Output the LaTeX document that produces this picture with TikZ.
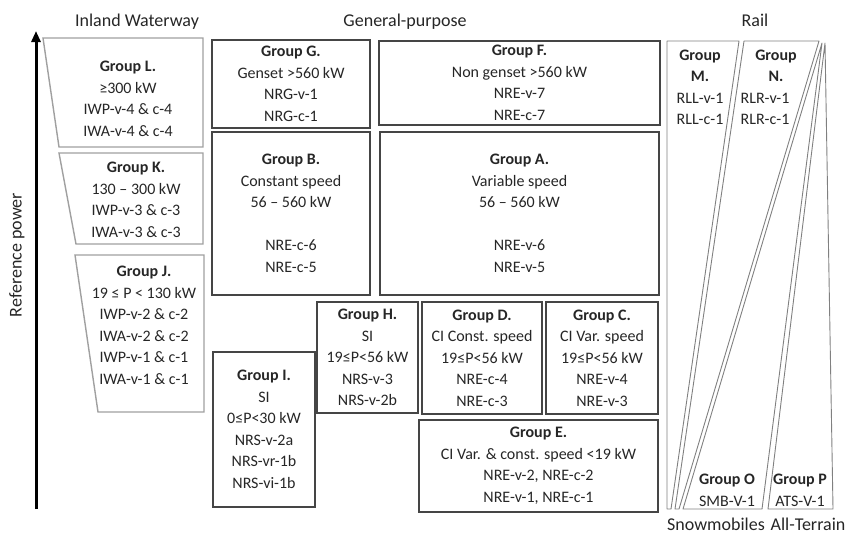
\documentclass[tikz,border=0pt]{standalone}
\usepackage{fontspec}
\setmainfont{Carlito}
\usetikzlibrary{arrows.meta}
\definecolor{txt}{HTML}{262626}
\definecolor{gpcol}{HTML}{454545}
\definecolor{iwcol}{HTML}{A0A0A0}
\definecolor{railcol}{HTML}{808080}
\tikzset{
  gpbox/.style={draw=gpcol, line width=1.8pt, inner sep=0pt, align=center, text=txt,
     font=\fontsize{16}{21.5}\selectfont},
  lbl/.style={inner sep=0pt, align=center, text=txt, font=\fontsize{16}{21.5}\selectfont},
  head/.style={inner sep=0pt, text=txt, font=\fontsize{18}{22}\selectfont},
  iwshape/.style={draw=iwcol, line width=1.4pt, line join=miter},
  railshape/.style={draw=railcol, line width=0.9pt, line join=round},
}
\begin{document}
\begin{tikzpicture}[x=1pt,y=-1pt]
\useasboundingbox (0,0) rectangle (850,536);
% headers
\node[head] (hIW) at (137,22) {Inland Waterway};
\node[head] (hGP) at (405,22) {General-purpose};
\node[head] (hR) at (755,20) {Rail};
\node[head] (hS) at (716,524) {Snowmobiles};
\node[head] (hA) at (808,524) {All-Terrain};
\node[head, rotate=90] (hRP) at (17,255) {Reference power};
% axis arrow
\coordinate (ab) at (36,509);
\coordinate (at) at (36,31);
\draw[line width=3pt, -{Triangle[length=11pt,width=9pt]}] (ab) -- (at);
% inland waterway trapezoids
\draw[iwshape] (43,38) -- (203,38) -- (203,147) -- (59,147) -- cycle;
\node[lbl] (L) at (128,99) {\textbf{Group L.}\\≥300 kW\\IWP-v-4 \& c-4\\IWA-v-4 \& c-4};
\draw[iwshape] (59,153) -- (203,153) -- (203,244) -- (76,244) -- cycle;
\node[lbl] (K) at (136,200) {\textbf{Group K.}\\130 – 300 kW\\IWP-v-3 \& c-3\\IWA-v-3 \& c-3};
\draw[iwshape] (75,255) -- (204,255) -- (204,412) -- (98,412) -- cycle;
\node[lbl] (J) at (144,325.5) {\textbf{Group J.}\\19 ≤ P < 130 kW\\IWP-v-2 \& c-2\\IWA-v-2 \& c-2\\IWP-v-1 \& c-1\\IWA-v-1 \& c-1};
% general purpose boxes
\node[gpbox, minimum width=158pt, minimum height=88pt] (G) at (291,84)
  {\textbf{Group G.}\\Genset >560 kW\\NRG-v-1\\NRG-c-1};
\node[gpbox, minimum width=281pt, minimum height=84pt] (F) at (519.5,83)
  {\textbf{Group F.}\\Non genset >560 kW\\NRE-v-7\\NRE-c-7};
\node[gpbox, minimum width=158pt, minimum height=163pt] (B) at (291,213.5)
  {\textbf{Group B.}\\Constant speed\\56 – 560 kW\\[21.5pt]NRE-c-6\\NRE-c-5};
\node[gpbox, minimum width=279pt, minimum height=163pt] (A) at (519.5,213.5)
  {\textbf{Group A.}\\Variable speed\\56 – 560 kW\\[21.5pt]NRE-v-6\\NRE-v-5};
\node[gpbox, minimum width=101pt, minimum height=111pt] (H) at (367.5,357.5)
  {\textbf{Group H.}\\SI\\19≤P<56 kW\\NRS-v-3\\NRS-v-2b};
\node[gpbox, minimum width=120pt, minimum height=112pt] (D) at (482,358)
  {\textbf{Group D.}\\CI Const. speed\\19≤P<56 kW\\NRE-c-4\\NRE-c-3};
\node[gpbox, minimum width=112pt, minimum height=112pt] (C) at (602,358)
  {\textbf{Group C.}\\CI Var. speed\\19≤P<56 kW\\NRE-v-4\\NRE-v-3};
\node[gpbox, minimum width=102pt, minimum height=155pt] (I) at (264,429.5)
  {\textbf{Group I.}\\SI\\0≤P<30 kW\\NRS-v-2a\\NRS-vr-1b\\NRS-vi-1b};
\node[gpbox, minimum width=239pt, minimum height=92pt] (E) at (538.5,466)
  {\textbf{Group E.}\\CI Var. \& const. speed <19 kW\\NRE-v-2, NRE-c-2\\NRE-v-1, NRE-c-1};
% rail shapes
\draw[railshape] (667,41) -- (739,41) -- (671,509) -- (667,509) -- cycle;
\node[lbl] (M) at (700,87.5) {\textbf{Group}\\\textbf{M.}\\RLL-v-1\\RLL-c-1};
\draw[railshape] (744,41) -- (819,41) -- (679,509) -- (675,509) -- cycle;
\node[lbl] (N1) at (776,66) {\textbf{Group}\\\textbf{N.}};
\node[lbl] (N2) at (765,109) {RLR-v-1\\RLR-c-1};
\draw[railshape] (822,43) -- (762,509) -- (683,509) -- cycle;
\node[lbl] (O) at (727,490.5) {\textbf{Group O}\\SMB-V-1};
\draw[railshape] (825,43) -- (833,509) -- (768,509) -- cycle;
\node[lbl] (P) at (800,490.5) {\textbf{Group P}\\ATS-V-1};
\end{tikzpicture}
\end{document}
